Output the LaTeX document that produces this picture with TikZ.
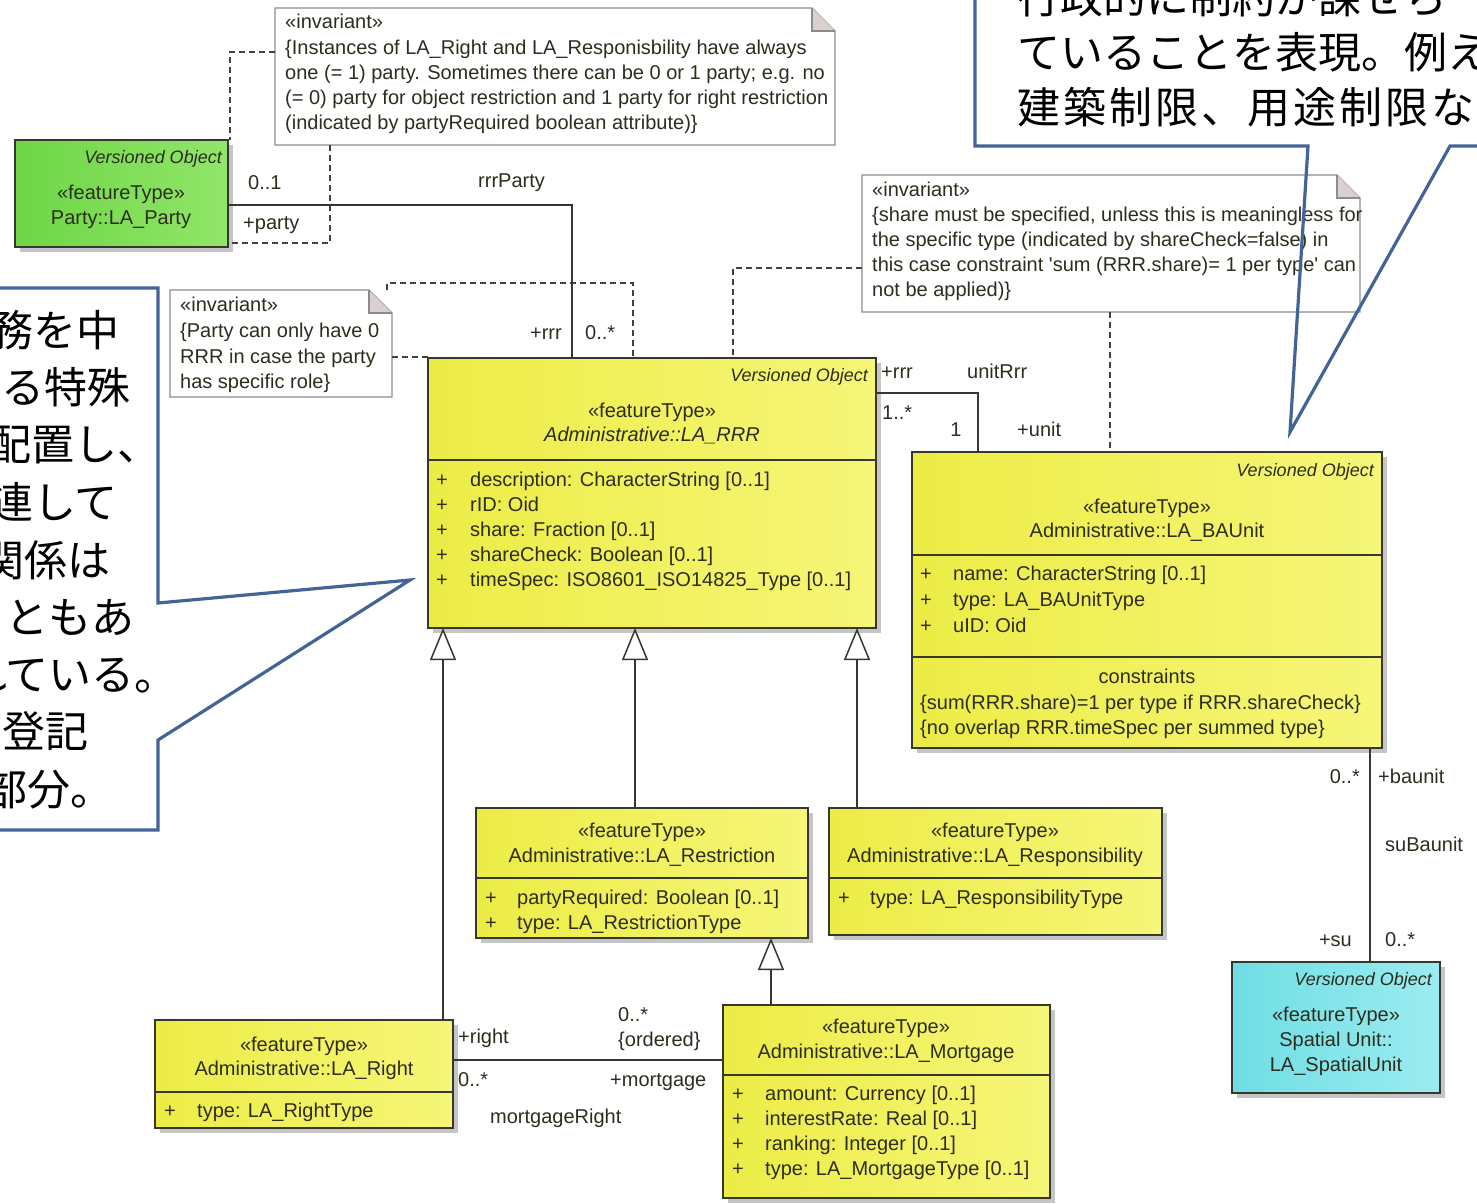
\documentclass[tikz,border=0pt]{standalone}
\usepackage{fontspec}
\setmainfont{Liberation Sans}
\newfontfamily\cjk{Noto Sans CJK JP}
\usetikzlibrary{arrows.meta,shadows,calc}
\definecolor{yelL}{RGB}{236,236,70}
\definecolor{yelR}{RGB}{246,246,120}
\definecolor{grnL}{RGB}{110,214,70}
\definecolor{grnR}{RGB}{145,230,105}
\definecolor{cyaL}{RGB}{110,222,228}
\definecolor{cyaR}{RGB}{155,236,240}
\definecolor{txtc}{RGB}{45,45,30}
\definecolor{calc}{RGB}{66,100,150}
\definecolor{edge}{RGB}{55,55,45}
\definecolor{notee}{RGB}{140,140,140}
\definecolor{foldc}{RGB}{218,208,208}
\tikzset{
  cls/.style={draw=edge, line width=1.6pt, anchor=north west, inner sep=0pt, outer sep=0pt,
    drop shadow={shadow xshift=5pt, shadow yshift=-5pt, fill=black!45, opacity=0.5}},
  yfill/.style={left color=yelL, right color=yelR},
  gfill/.style={left color=grnL, right color=grnR},
  cfill/.style={left color=cyaL, right color=cyaR},
  t/.style={font=\fontsize{20}{24}\selectfont, text=txtc, inner sep=0pt, anchor=mid, yshift=-4pt},
  tl/.style={t, anchor=mid west},
  tr/.style={t, anchor=mid east},
  vo/.style={font=\fontsize{18}{22}\selectfont\itshape, text=txtc, inner sep=0pt, anchor=mid east, yshift=-4pt},
  assoc/.style={draw=edge, line width=1.5pt},
  dep/.style={draw=black!75, line width=1.4pt, dash pattern=on 6pt off 4pt},
  gen/.style={draw=edge, line width=1.5pt, -{Triangle[open, fill=white, length=32pt, width=26pt]}},
  notebox/.style={anchor=north west, inner sep=0pt, outer sep=0pt, draw=none},
  notebd/.style={draw=notee, line width=1.3pt, fill=white},
  callout/.style={draw=calc, line width=3.2pt, line join=miter},
  jp/.style={font=\cjk\fontsize{43}{50}\selectfont, text=black, inner sep=0pt, anchor=west},
}
\begin{document}
\begin{tikzpicture}[x=1pt,y=-1pt]
\useasboundingbox (0,0) rectangle (1477,1203);
\clip (0,0) rectangle (1477,1203);
\fill[white] (0,0) rectangle (1477,1203);

% ---------- notes ----------
\node[notebox, minimum width=560pt, minimum height=137pt] (note1) at (275,8) {};
\draw[notebd] (note1.north west) -- ($(note1.north east)+(-23,0)$) -- ($(note1.north east)+(0,23)$) -- (note1.south east) -- (note1.south west) -- cycle;
\draw[notebd, fill=foldc] ($(note1.north east)+(-23,0)$) -- ($(note1.north east)+(-23,23)$) -- ($(note1.north east)+(0,23)$);
\node[tl] (n1a) at (285,22) {«invariant»};
\node[tl] (n1b) at (285,48) {\{Instances of LA\_Right and LA\_Responisbility have always};
\node[tl] (n1c) at (285,73) {one (= 1) party. Sometimes there can be 0 or 1 party; e.g. no};
\node[tl] (n1d) at (285,98) {(= 0) party for object restriction and 1 party for right restriction};
\node[tl] (n1e) at (285,123) {(indicated by partyRequired boolean attribute)\}};

\node[notebox, minimum width=222pt, minimum height=107pt] (note2) at (170,290) {};
\draw[notebd] (note2.north west) -- ($(note2.north east)+(-23,0)$) -- ($(note2.north east)+(0,23)$) -- (note2.south east) -- (note2.south west) -- cycle;
\draw[notebd, fill=foldc] ($(note2.north east)+(-23,0)$) -- ($(note2.north east)+(-23,23)$) -- ($(note2.north east)+(0,23)$);
\node[tl] (n2a) at (180,305) {«invariant»};
\node[tl] (n2b) at (180,331) {\{Party can only have 0};
\node[tl] (n2c) at (180,357) {RRR in case the party};
\node[tl] (n2d) at (180,382) {has specific role\}};

\node[notebox, minimum width=498pt, minimum height=137pt] (note3) at (862,175) {};
\draw[notebd] (note3.north west) -- ($(note3.north east)+(-23,0)$) -- ($(note3.north east)+(0,23)$) -- (note3.south east) -- (note3.south west) -- cycle;
\draw[notebd, fill=foldc] ($(note3.north east)+(-23,0)$) -- ($(note3.north east)+(-23,23)$) -- ($(note3.north east)+(0,23)$);
\node[tl] (n3a) at (872,190) {«invariant»};
\node[tl] (n3b) at (872,215) {\{share must be specified, unless this is meaningless for};
\node[tl] (n3c) at (872,240) {the specific type (indicated by shareCheck=false) in};
\node[tl] (n3d) at (872,265) {this case constraint \textquotesingle sum (RRR.share)= 1 per type\textquotesingle\ can};
\node[tl] (n3e) at (872,290) {not be applied)\}};

% ---------- classes ----------
\node[cls, gfill, minimum width=213pt, minimum height=107pt] (party) at (15,140) {};
\node[vo] (pa1) at (222,157) {Versioned Object};
\node[t] (pa2) at (121,193) {«featureType»};
\node[t] (pa3) at (121,218) {Party::LA\_Party};

\node[cls, yfill, minimum width=448pt, minimum height=270pt] (rrr) at (428,358) {};
\node[vo] (r0) at (868,375) {Versioned Object};
\node[t] (r1) at (652,411) {«featureType»};
\node[t, font=\fontsize{20}{24}\selectfont\itshape] (r2) at (652,435) {Administrative::LA\_RRR};
\draw[assoc] (rrr.west |- 0,460) -- (rrr.east |- 0,460);
\foreach \yy/\txt [count=\i] in {480/description:  CharacterString [0..1], 505/rID:  Oid, 530/share:  Fraction [0..1], 555/shareCheck:  Boolean [0..1], 580/timeSpec:  ISO8601\_ISO14825\_Type [0..1]}{
  \node[tl] (rp\i) at (436,\yy) {+};
  \node[tl] (ra\i) at (470,\yy) {\txt};
}

\node[cls, yfill, minimum width=470pt, minimum height=296pt] (baunit) at (912,452) {};
\node[vo] (b0) at (1374,470) {Versioned Object};
\node[t] (b1) at (1147,507) {«featureType»};
\node[t] (b2) at (1147,531) {Administrative::LA\_BAUnit};
\draw[assoc] (baunit.west |- 0,555) -- (baunit.east |- 0,555);
\foreach \yy/\txt [count=\i] in {574/name:  CharacterString [0..1], 600/type:  LA\_BAUnitType, 626/uID:  Oid}{
  \node[tl] (bp\i) at (920,\yy) {+};
  \node[tl] (ba\i) at (953,\yy) {\txt};
}
\draw[assoc] (baunit.west |- 0,657) -- (baunit.east |- 0,657);
\node[t] (bc0) at (1147,677) {constraints};
\node[tl] (bc1) at (920,703) {\{sum(RRR.share)=1 per type if RRR.shareCheck\}};
\node[tl] (bc2) at (920,728) {\{no overlap RRR.timeSpec per summed type\}};

\node[cls, cfill, minimum width=208pt, minimum height=131pt] (su) at (1232,962) {};
\node[vo] (s0) at (1432,979) {Versioned Object};
\node[t] (s1) at (1336,1015) {«featureType»};
\node[t] (s2) at (1336,1040) {Spatial Unit::};
\node[t] (s3) at (1336,1065) {LA\_SpatialUnit};

\node[cls, yfill, minimum width=332pt, minimum height=130pt] (restr) at (476,808) {};
\node[t] (x1) at (642,831) {«featureType»};
\node[t] (x2) at (642,856) {Administrative::LA\_Restriction};
\draw[assoc] (restr.west |- 0,878) -- (restr.east |- 0,878);
\node[tl] (xp1) at (485,898) {+};
\node[tl] (xa1) at (517,898) {partyRequired:  Boolean [0..1]};
\node[tl] (xp2) at (485,923) {+};
\node[tl] (xa2) at (517,923) {type:  LA\_RestrictionType};

\node[cls, yfill, minimum width=333pt, minimum height=127pt] (resp) at (829,808) {};
\node[t] (y1) at (995,831) {«featureType»};
\node[t] (y2) at (995,856) {Administrative::LA\_Responsibility};
\draw[assoc] (resp.west |- 0,878) -- (resp.east |- 0,878);
\node[tl] (yp1) at (838,898) {+};
\node[tl] (ya1) at (870,898) {type:  LA\_ResponsibilityType};

\node[cls, yfill, minimum width=298pt, minimum height=108pt] (right) at (155,1020) {};
\node[t] (g1) at (304,1045) {«featureType»};
\node[t] (g2) at (304,1069) {Administrative::LA\_Right};
\draw[assoc] (right.west |- 0,1092) -- (right.east |- 0,1092);
\node[tl] (gp1) at (164,1111) {+};
\node[tl] (ga1) at (197,1111) {type:  LA\_RightType};

\node[cls, yfill, minimum width=327pt, minimum height=193pt] (mort) at (723,1005) {};
\node[t] (m1) at (886,1027) {«featureType»};
\node[t] (m2) at (886,1052) {Administrative::LA\_Mortgage};
\draw[assoc] (mort.west |- 0,1075) -- (mort.east |- 0,1075);
\foreach \yy/\txt [count=\i] in {1094/amount:  Currency [0..1], 1119/interestRate:  Real [0..1], 1144/ranking:  Integer [0..1], 1169/type:  LA\_MortgageType [0..1]}{
  \node[tl] (mp\i) at (732,\yy) {+};
  \node[tl] (ma\i) at (765,\yy) {\txt};
}

% ---------- dependencies ----------
\draw[dep] (note1.west |- 0,52) -| (party.north -| 230,0);
\draw[dep] (note1.south -| 330,0) |- (party.east |- 0,243);
\draw[dep] (note2.east |- 0,357) -- (rrr.west |- 0,357);
\draw[dep] (note2.north -| 387,0) -- (387,283) -- (633,283) -- (rrr.north -| 633,0);
\draw[dep] (note3.west |- 0,268) -| (rrr.north -| 733,0);
\draw[dep] (note3.south -| 1110,0) -- (baunit.north -| 1110,0);

% ---------- associations ----------
\draw[assoc] (party.east |- 0,205) -| (rrr.north -| 572,0);
\draw[assoc] (rrr.east |- 0,393) -| (baunit.north -| 978,0);
\draw[assoc] (baunit.south -| 1370,0) -- (su.north -| 1370,0);
\draw[assoc] (right.east |- 0,1060) -- (mort.west |- 0,1060);

\node[tl] (l1) at (248,183) {0..1};
\node[tl] (l2) at (243,223) {+party};
\node[tl] (l3) at (478,181) {rrrParty};
\node[tr] (l4) at (562,333) {+rrr};
\node[tl] (l5) at (585,333) {0..*};
\node[tl] (l6) at (881,372) {+rrr};
\node[tl] (l7) at (967,372) {unitRrr};
\node[tl] (l8) at (882,413) {1..*};
\node[t] (l9) at (956,430) {1};
\node[tl] (l10) at (1017,430) {+unit};
\node[tr] (l11) at (1360,777) {0..*};
\node[tl] (l12) at (1378,777) {+baunit};
\node[tl] (l13) at (1385,845) {suBaunit};
\node[tr] (l14) at (1352,940) {+su};
\node[tl] (l15) at (1385,940) {0..*};
\node[tl] (l16) at (458,1037) {+right};
\node[tl] (l17) at (618,1015) {0..*};
\node[tl] (l18) at (618,1040) {\{ordered\}};
\node[tl] (l19) at (458,1080) {0..*};
\node[tl] (l20) at (610,1080) {+mortgage};
\node[tl] (l21) at (490,1117) {mortgageRight};

% ---------- generalizations ----------
\draw[gen] (right.north -| 443,0) -- (rrr.south -| 443,0);
\draw[gen] (restr.north -| 635,0) -- (rrr.south -| 635,0);
\draw[gen] (resp.north -| 857,0) -- (rrr.south -| 857,0);
\draw[gen] (mort.north -| 771,0) -- (restr.south -| 771,0);

% ---------- callouts ----------
\fill[white] (-10,288) rectangle (158,830);
\node[jp] (j1) at (-53,330) {義務を中};
\node[jp] (j2) at (1,387) {る特殊};
\node[jp] (j3) at (-12,445) {配置し、};
\node[jp] (j4) at (-53,502) {関連して};
\node[jp] (j5) at (-19,560) {関係は};
\node[jp] (j6) at (-38,617) {こともあ};
\node[jp] (j7) at (-36,675) {れている。};
\node[jp] (j8) at (-41,731) {の登記};
\node[jp] (j9) at (-16,789) {部分。};
\draw[callout] (-10,288) -- (158,288) -- (158,603) -- (410,580) -- (158,740) -- (158,830) -- (-10,830);

\fill[white] (975,-10) rectangle (1490,146);
\node[jp] (k1) at (1017,-3) {行政的に制約が課せら};
\node[jp] (k2) at (1017,52) {ていることを表現。例え};
\node[jp, font=\cjk\fontsize{43}{50}\selectfont\addfontfeature{LetterSpace=7}] (k3) at (1017,107) {建築制限、用途制限な};
\draw[callout] (975,-10) -- (975,146) -- (1308,146) -- (1290,432) -- (1450,146) -- (1490,146);
\end{tikzpicture}
\end{document}
